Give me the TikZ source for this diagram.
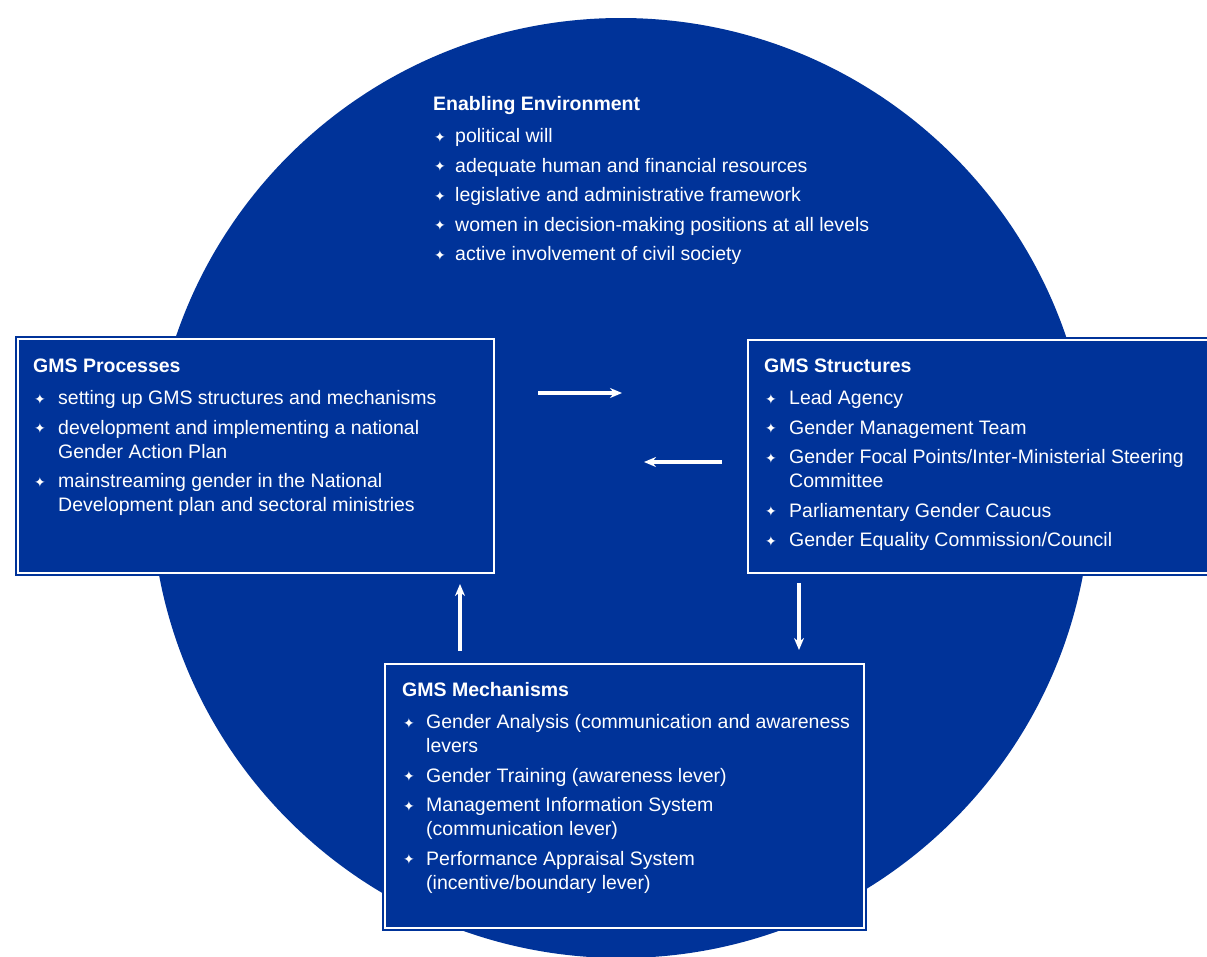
\documentclass[tikz,border=0pt]{standalone}
\usepackage{fontspec}
\setmainfont{Liberation Sans}
\newfontfamily\symfont{DejaVu Sans}
\usetikzlibrary{arrows.meta}
\definecolor{gmsblue}{RGB}{0,51,153}
\newcommand{\bl}{\raisebox{0.5pt}{\symfont\fontsize{14}{14}\selectfont ✦}}
\newcommand{\hd}[1]{\multicolumn{2}{@{}l@{}}{\bfseries #1}\\[8.5pt]}
\newcommand{\bi}[1]{\bl & #1\\[5.5pt]}
\newcommand{\cl}[1]{& #1\\}
\newcommand{\cll}[1]{& #1\\[5.5pt]}
\tikzset{
  gbox/.style={fill=gmsblue, draw=white, line width=1.5pt,
    preaction={draw=gmsblue, line width=6pt},
    anchor=north west, inner sep=0pt},
  gtext/.style={anchor=base west, inner sep=0pt, text=white,
    font=\fontsize{19.5}{24}\selectfont},
  garrow/.style={draw=white, line width=3.5pt,
    -{Stealth[length=12pt,width=10pt]}}
}
\begin{document}
\begin{tikzpicture}[x=1pt,y=-1pt]
\useasboundingbox (0,0) rectangle (1207,956);
\clip (0,0) rectangle (1207,956);
\fill[white] (0,0) rectangle (1207,956);
% big circle
\node[circle, fill=gmsblue, minimum size=940pt, inner sep=0pt] (env) at (621,488) {};
% boxes
\node[gbox, minimum width=476pt, minimum height=234pt] (proc) at (17,338) {};
\node[gbox, minimum width=470pt, minimum height=233pt] (struct) at (747,339) {};
\node[gbox, minimum width=479pt, minimum height=264pt] (mech) at (384,663) {};
% texts
\node[gtext] (envt) at (433,110) {\begin{tabular}[t]{@{\hspace{1pt}}p{21pt}@{}l@{}}
\hd{Enabling Environment}
\bi{political will}
\bi{adequate human and financial resources}
\bi{legislative and administrative framework}
\bi{women in decision-making positions at all levels}
\bl & active involvement of civil society\\
\end{tabular}};
\node[gtext] (proct) at (33,372) {\begin{tabular}[t]{@{\hspace{1pt}}p{24pt}@{}l@{}}
\hd{GMS Processes}
\bi{setting up GMS structures and mechanisms}
\bl & development and implementing a national\\
\cll{Gender Action Plan}
\bl & mainstreaming gender in the National\\
\cl{Development plan and sectoral ministries}
\end{tabular}};
\node[gtext] (structt) at (764,372) {\begin{tabular}[t]{@{\hspace{1pt}}p{24pt}@{}l@{}}
\hd{GMS Structures}
\bi{Lead Agency}
\bi{Gender Management Team}
\bl & Gender Focal Points/Inter-Ministerial Steering\\
\cll{Committee}
\bi{Parliamentary Gender Caucus}
\bl & Gender Equality Commission/Council\\
\end{tabular}};
\node[gtext] (mecht) at (402,696) {\begin{tabular}[t]{@{\hspace{1pt}}p{23pt}@{}l@{}}
\hd{GMS Mechanisms}
\bl & Gender Analysis (communication and awareness\\
\cll{levers}
\bi{Gender Training (awareness lever)}
\bl & Management Information System\\
\cll{(communication lever)}
\bl & Performance Appraisal System\\
\cl{(incentive/boundary lever)}
\end{tabular}};
% arrow end points
\coordinate (a1s) at (538,393);
\coordinate (a1e) at (622,393);
\coordinate (a2s) at (722,462);
\coordinate (a2e) at (644,462);
\coordinate (a3s) at (460,651);
\coordinate (a3e) at (460,584);
\coordinate (a4s) at (799,583);
\coordinate (a4e) at (799,650);
\draw[garrow] (a1s) -- (a1e);
\draw[garrow] (a2s) -- (a2e);
\draw[garrow] (a3s) -- (a3e);
\draw[garrow] (a4s) -- (a4e);
\end{tikzpicture}
\end{document}
